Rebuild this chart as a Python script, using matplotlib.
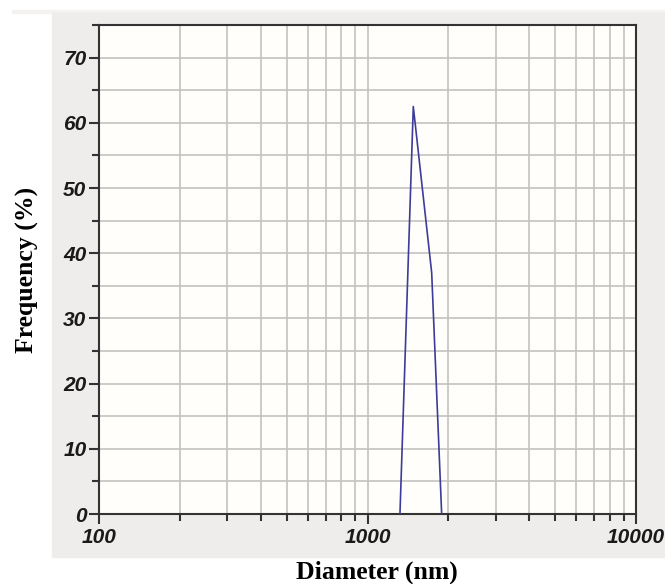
import matplotlib
matplotlib.use("Agg")
import matplotlib.pyplot as plt
from matplotlib.patches import Rectangle
from matplotlib.ticker import FixedLocator, NullFormatter

# size distribution
diameter_nm = [1321, 1481, 1734, 1889]
frequency_pct = [0.0, 62.5, 37.0, 0.0]

x_ticks = [100, 1000, 10000]
x_tick_labels = ["100", "1000", "10000"]
y_ticks = [0, 10, 20, 30, 40, 50, 60, 70]

W, H = 665, 584
fig = plt.figure(figsize=(W / 100, H / 100), dpi=100)
fig.patch.set_facecolor("white")

# grey panel behind the plot
fig.patches.append(Rectangle((12 / W, 1 - 13 / H), 1 - 12 / W, 3 / H,
                             transform=fig.transFigure, color="#f4f3f2", zorder=-2))
fig.patches.append(Rectangle((52 / W, 1 - 557 / H), 1 - 52 / W, (557 - 13) / H,
                             transform=fig.transFigure, color="#efedeb", zorder=-2))

left, right, top, bottom = 99, 636, 25, 514
ax = fig.add_axes([left / W, 1 - bottom / H, (right - left) / W, (bottom - top) / H])
ax.set_zorder(1)
ax.set_facecolor("#fffefb")

ax.plot(diameter_nm, frequency_pct, color="#3c3c9a", lw=1.2, zorder=3)

ax.set_xscale("log")
ax.set_xlim(100, 10000)
ax.set_ylim(0, 75)

ax.set_xticks(x_ticks)
ax.set_xticklabels(x_tick_labels)
minors = [m * d for d in (100, 1000) for m in range(2, 10)]
ax.xaxis.set_minor_locator(FixedLocator(minors))
ax.xaxis.set_minor_formatter(NullFormatter())
ax.set_yticks(y_ticks)
ax.yaxis.set_minor_locator(FixedLocator([5, 15, 25, 35, 45, 55, 65, 75]))

ax.grid(True, which="both", color="#c4c2c0", lw=1.2)
ax.set_axisbelow(True)

for s in ax.spines.values():
    s.set_color("#333333")
    s.set_linewidth(1.5)

ax.tick_params(which="major", direction="out", length=7, width=1.5, color="#333333", pad=2)
ax.tick_params(which="minor", direction="out", length=5, width=1.5, color="#333333")
ax.tick_params(axis="x", which="major", pad=3)

for lab in ax.get_xticklabels() + ax.get_yticklabels():
    lab.set_fontfamily("Liberation Sans")
    lab.set_fontweight("bold")
    lab.set_fontstyle("italic")
    lab.set_fontsize(15)
    lab.set_color("#1a1a1a")

# axis titles placed in pixels, as in the picture
fig.text(377 / W, 1 - 572 / H, "Diameter (nm)", ha="center", va="center",
         fontfamily="Liberation Serif", fontweight="bold", fontsize=18.5)
fig.text(27 / W, 1 - 270 / H, "Frequency (%)", ha="center", va="center", rotation=90,
         fontfamily="Liberation Serif", fontweight="bold", fontsize=18.5)

fig.savefig("out.png", dpi=100)
